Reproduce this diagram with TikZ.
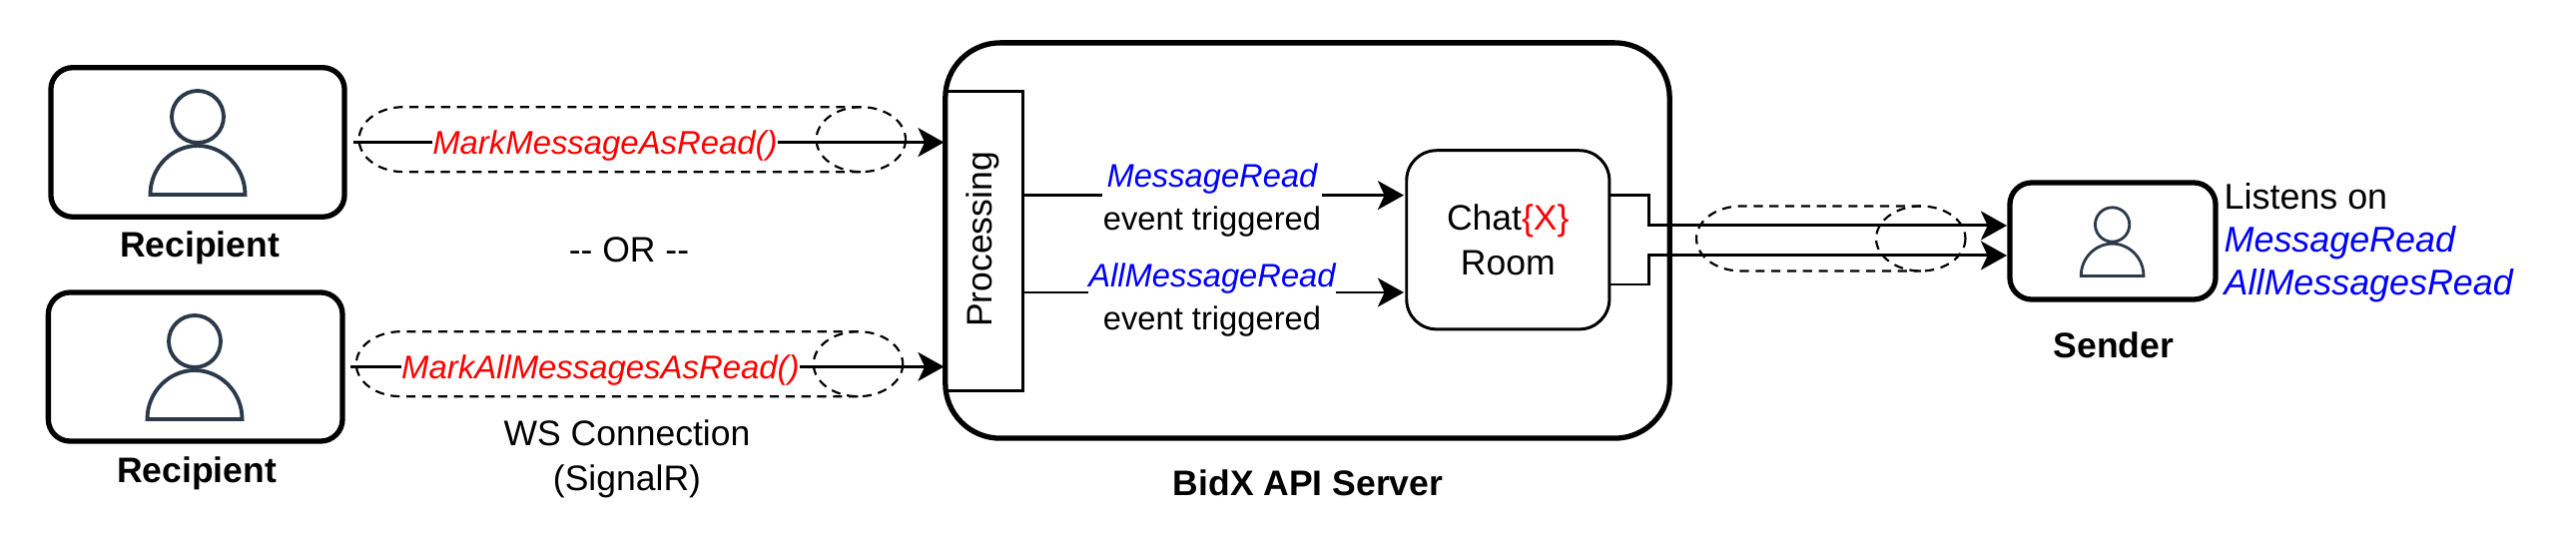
\documentclass[tikz,border=0pt]{standalone}
\usepackage{fontspec}
\setmainfont{Liberation Sans}
\usetikzlibrary{arrows.meta}
\definecolor{iconblue}{HTML}{2B3A4B}
\tikzset{
	plainbox/.style={draw=black, line width=0.85pt, inner sep=0pt},
	userbox/.style={draw=black, line width=1.5pt, inner sep=0pt, rounded corners=0.22cm},
	bigtext/.style={font=\fontsize{10.1}{12.8}\selectfont, inner sep=0pt, align=center},
	smalltext/.style={font=\fontsize{9.3}{12.2}\selectfont, inner sep=0pt, align=center},
	boldtext/.style={font=\fontsize{10.1}{12.8}\selectfont\bfseries, inner sep=0pt},
	callred/.style={font=\fontsize{9.35}{12.2}\selectfont\itshape, text=red, inner sep=0pt, text height=7pt, text depth=0.2pt},
	wire/.style={line width=0.85pt},
	flow/.style={line width=0.85pt, -{Stealth[length=7.4pt,width=8.2pt,inset=1.9pt]}},
	pipe/.style={line width=0.62pt, dash pattern=on 2.6pt off 1.9pt},
}
\def\usericon[#1](#2)(#3){\begin{scope}[shift={(#2)},scale=#3]
	\draw[iconblue,#1] (0,0) circle (26);
	\draw[iconblue,#1] (-47.5,78) .. controls (-47.5,50) and (-25,29) .. (0,29) .. controls (25,29) and (47.5,50) .. (47.5,78) -- cycle;
\end{scope}}
\def\pipecase(#1)(#2){\begin{scope}[shift={(#1)}]
	\draw[pipe] (0,0) ellipse [x radius=44.7, y radius=32.5];
	\draw[pipe] (0,-32.5) -- (-#2,-32.5) arc [start angle=-90, end angle=-270, x radius=44.7, y radius=32.5] -- (0,32.5);
\end{scope}}

\begin{document}
\begin{tikzpicture}[x=0.01cm,y=-0.01cm]
	\useasboundingbox (0,0) rectangle (2580,540);

	% senders and receivers
	\node[userbox, minimum width=2.94cm, minimum height=1.495cm] (recvOne) at (198,142.5) {};
	\node[userbox, minimum width=2.945cm, minimum height=1.49cm] (recvTwo) at (195.7,367.5) {};
	\node[userbox, minimum width=2.06cm, minimum height=1.17cm] (sender) at (2116,241.5) {};
	\usericon[line width=1.1pt](198,117)(1)
	\usericon[line width=1.1pt](195,342)(1)
	\usericon[line width=0.8pt](2115.6,225)(0.66)

	\node[boldtext] (recvOneName) at (200,248.5) {Recipient};
	\node[boldtext] (recvTwoName) at (197,474) {Recipient};
	\node[boldtext] (senderName) at (2117,346) {Sender};

	% server
	\node[userbox, minimum width=7.25cm, minimum height=3.96cm, rounded corners=0.55cm] (api) at (1309.5,241) {};
	\node[plainbox, minimum width=0.77cm, minimum height=2.99cm] (proc) at (985.5,241.5) {};
	\node[bigtext, rotate=90] (procName) at (984,240) {Processing};
	\node[plainbox, bigtext, draw, minimum width=2.03cm, minimum height=1.79cm, rounded corners=0.3cm] (room) at (1510.3,240.3) {Chat{\color{red}\{X\}}\\Room};
	\node[boldtext] (apiName) at (1310,484) {BidX API Server};

	\node[bigtext] (orText) at (630,250.5) {-{}- OR -{}-};
	\node[bigtext] (wsText) at (628,460) {WS Connection\\(SignalR)};

	% calls into the server
	\coordinate (callOne) at (354,142.6);
	\coordinate (callTwo) at (351,367.4);
	\node[callred] (markOne) at (606,142.6) {MarkMessageAsRead()};
	\node[callred] (markTwo) at (601.4,367.4) {MarkAllMessagesAsRead()};
	\draw[wire] (callOne) -- (markOne);
	\draw[flow] (markOne) -- (proc.west |- markOne);
	\draw[wire] (callTwo) -- (markTwo);
	\draw[flow] (markTwo) -- (proc.west |- markTwo);
	\pipecase(862.3,139.7)(458)
	\pipecase(859.5,364.7)(458)

	% events to the room
	\coordinate (roomInA) at (1406,195.6);
	\coordinate (roomInB) at (1406,293);
	\node[smalltext] (readA) at (1214,200.7) {\textit{\textcolor{blue}{MessageRead}}\\event triggered};
	\node[smalltext] (readB) at (1214,301) {\textit{\textcolor{blue}{AllMessageRead}}\\event triggered};
	\draw[wire] (proc.east |- roomInA) -- (readA.west |- roomInA);
	\draw[flow] (readA.east |- roomInA) -- (roomInA);
	\draw[wire] (proc.east |- roomInB) -- (readB.west |- roomInB);
	\draw[flow] (readB.east |- roomInB) -- (roomInB);

	% room to sender
	\coordinate (roomOutA) at (1613,195.3);
	\coordinate (roomOutB) at (1613,285);
	\coordinate (sendInA) at (2010,226);
	\coordinate (sendInB) at (2010,256);
	\draw[flow] (roomOutA) -- ++(38.5,0) |- (sendInA);
	\draw[flow] (roomOutB) -- ++(38.5,0) |- (sendInB);
	\pipecase(1923.75,239)(180)

	\node[anchor=west, inner sep=0pt, align=left, font=\fontsize{10.2}{12.2}\selectfont] (listenText) at (2227,243.5) {Listens on\\\textit{\textcolor{blue}{MessageRead}}\\\textit{\textcolor{blue}{AllMessagesRead}}};
\end{tikzpicture}
\end{document}
